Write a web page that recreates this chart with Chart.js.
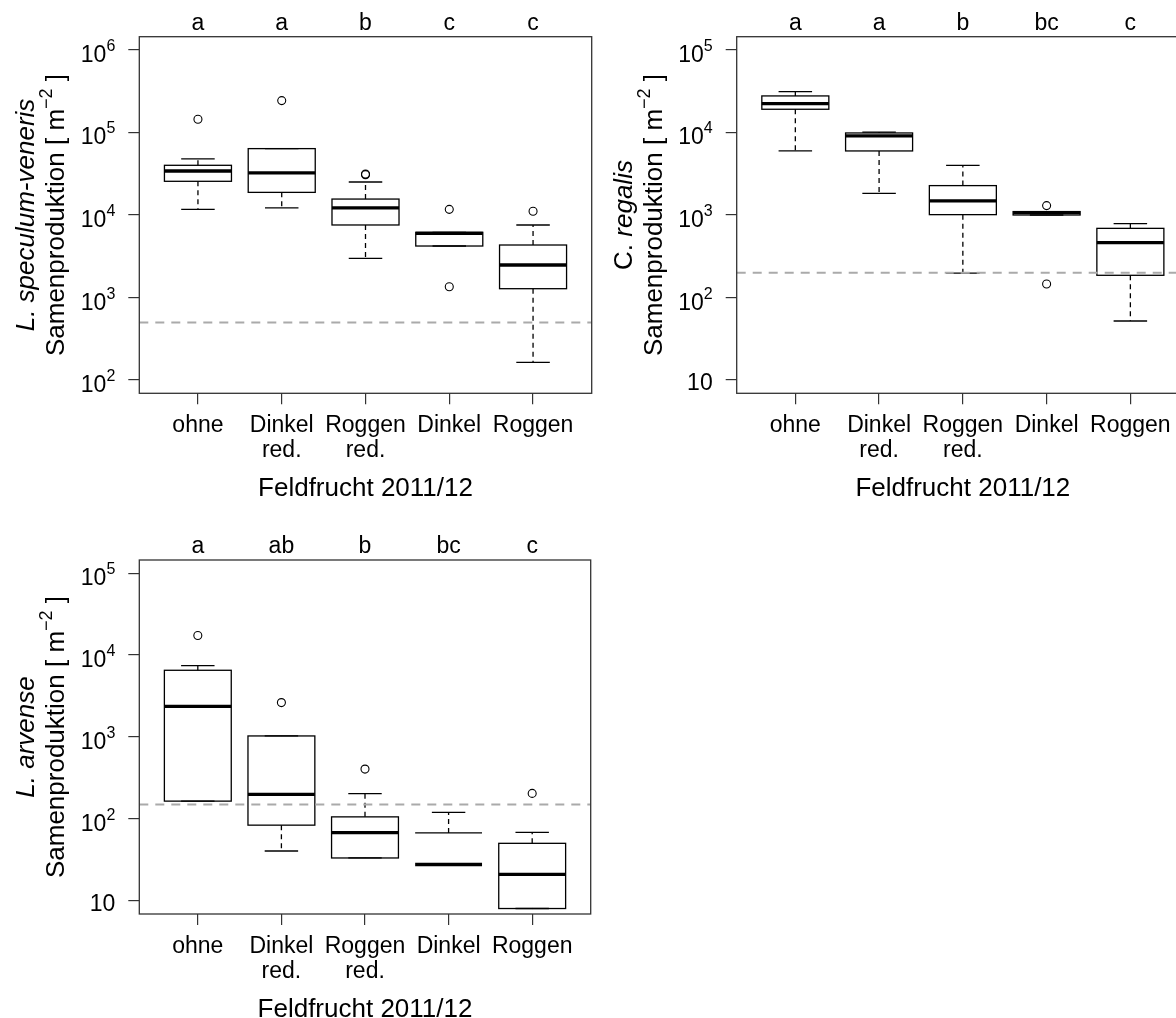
<!DOCTYPE html>
<html>
<head>
<meta charset="utf-8">
<script src="https://cdn.jsdelivr.net/npm/chart.js@4.4.1/dist/chart.umd.min.js"></script>
<style>
html, body { margin: 0; padding: 0; background: #fff; width: 1176px; height: 1018px; overflow: hidden; position: relative; }
canvas { position: absolute; }
</style>
</head>
<body>
<canvas id="c1" width="600" height="525" style="left:0;top:0;width:600px;height:525px"></canvas>
<canvas id="c2" width="600" height="525" style="left:597px;top:0;width:600px;height:525px"></canvas>
<canvas id="c3" width="600" height="525" style="left:0;top:523px;width:600px;height:525px"></canvas>
<script>
// Kategorien (Beschriftung der x-Achse)
const categories = [['ohne'], ['Dinkel', 'red.'], ['Roggen', 'red.'], ['Dinkel'], ['Roggen']];
const xTitle = 'Feldfrucht 2011/12';

// L. speculum-veneris
const lsvLow = [11700, 12200, 2990, 4210, 164];
const lsvQ1 = [25600, 18800, 7570, 4210, 1280];
const lsvMedian = [34100, 32300, 12200, 6000, 2480];
const lsvQ3 = [40000, 63700, 15600, 6170, 4330];
const lsvHigh = [47800, 63700, 25100, 6170, 7570];
const lsvOutliers = [[144500], [243000], [30800, 31400], [11700, 1350], [11100]];
const lsvLetters = ['a', 'a', 'b', 'c', 'c'];
const lsvTicks = [1e2, 1e3, 1e4, 1e5, 1e6];
const lsvThreshold = 500;
const lsvSpecies = [['L. speculum-veneris', true]];

// C. regalis
const crLow = [5970, 1830, 198, 1000, 52];
const crQ1 = [19100, 5970, 1010, 1000, 186];
const crMedian = [22400, 9070, 1480, 1070, 462];
const crQ3 = [27700, 9860, 2270, 1100, 689];
const crHigh = [31300, 10100, 4000, 1100, 785];
const crOutliers = [[], [], [], [1300, 146], []];
const crLetters = ['a', 'a', 'b', 'bc', 'c'];
const crTicks = [10, 1e2, 1e3, 1e4, 1e5];
const crThreshold = 200;
const crSpecies = [['C. ', false], ['regalis', true]];

// L. arvense
const laLow = [165, 40.6, 33.4, 0, 8.07];
const laQ1 = [165, 84, 33.4, 0, 8.07];
const laMedian = [2360, 199, 68, 27.8, 21.1];
const laQ3 = [6520, 1030, 106, 67.5, 50.4];
const laHigh = [7430, 1030, 204, 120, 68.6];
const laOutliers = [[17300], [2630], [406], [], [205]];
const laLetters = ['a', 'ab', 'b', 'bc', 'c'];
const laTicks = [10, 1e2, 1e3, 1e4, 1e5];
const laThreshold = 150;
const laSpecies = [['L. arvense', true]];

const FONT = "'Liberation Sans', Arial, sans-serif";

function seg(ctx, x1, y1, x2, y2) {
    ctx.beginPath();
    ctx.moveTo(x1, y1);
    ctx.lineTo(x2, y2);
    ctx.stroke();
}

// Text entlang der gedrehten Grundlinie zeichnen (Teile: [text, kursiv, groesse, hoch])
function rotatedParts(ctx, parts, xBase, yCenter) {
    ctx.save();
    ctx.translate(xBase, yCenter);
    ctx.rotate(-Math.PI / 2);
    ctx.textAlign = 'left';
    ctx.textBaseline = 'alphabetic';
    let total = 0;
    parts.forEach(p => {
        ctx.font = (p[1] ? 'italic ' : '') + p[2] + 'px ' + FONT;
        total += ctx.measureText(p[0]).width;
    });
    let x = -total / 2;
    parts.forEach(p => {
        ctx.font = (p[1] ? 'italic ' : '') + p[2] + 'px ' + FONT;
        ctx.fillText(p[0], x, -p[3]);
        x += ctx.measureText(p[0]).width;
    });
    ctx.restore();
}

function makePanel(id, area, d) {
    const canvas = document.getElementById(id);
    const W = canvas.width, H = canvas.height;

    const outlierPts = [];
    d.outliers.forEach((arr, i) => arr.forEach(v => outlierPts.push({ x: i + 1, y: v })));

    // R-Konvention: 4 % Erweiterung des Bereichs (log)
    const decades = Math.log10(d.ticks[d.ticks.length - 1] / d.ticks[0]);
    const yMin = d.ticks[0] / Math.pow(10, 0.04 * decades);
    const yMax = d.ticks[d.ticks.length - 1] * Math.pow(10, 0.04 * decades);

    const boxPlugin = {
        id: 'boxes' + id,
        beforeDatasetsDraw(chart) {
            const xs = chart.scales.x, ys = chart.scales.y, ctx = chart.ctx;
            ctx.save();
            ctx.strokeStyle = '#000';
            ctx.fillStyle = '#fff';
            for (let i = 0; i < d.median.length; i++) {
                const xc = xs.getPixelForValue(i + 1);
                const half = xs.getPixelForValue(i + 1.4) - xc;
                const cap = half / 2;
                const yQ3 = ys.getPixelForValue(d.q3[i]);
                const yHi = ys.getPixelForValue(d.high[i]);
                const yMed = ys.getPixelForValue(d.median[i]);
                const hasLow = d.q1[i] > 0;
                ctx.lineWidth = 1.3;
                ctx.setLineDash([5, 4]);
                seg(ctx, xc, yQ3, xc, yHi);
                if (hasLow) seg(ctx, xc, ys.getPixelForValue(d.q1[i]), xc, ys.getPixelForValue(d.low[i]));
                ctx.setLineDash([]);
                seg(ctx, xc - cap, yHi, xc + cap, yHi);
                if (hasLow) {
                    const yLo = ys.getPixelForValue(d.low[i]);
                    seg(ctx, xc - cap, yLo, xc + cap, yLo);
                    const yQ1 = ys.getPixelForValue(d.q1[i]);
                    ctx.strokeRect(xc - half, yQ3, 2 * half, yQ1 - yQ3);
                } else {
                    // unteres Quartil 0 -> auf log-Achse nicht darstellbar
                    seg(ctx, xc - half, yQ3, xc + half, yQ3);
                }
                ctx.lineWidth = 3.3;
                seg(ctx, xc - half, yMed, xc + half, yMed);
            }
            ctx.restore();
        },
        afterDraw(chart) {
            const xs = chart.scales.x, ys = chart.scales.y, ctx = chart.ctx;
            const ca = chart.chartArea;
            ctx.save();
            ctx.strokeStyle = '#333';
            ctx.lineWidth = 1.3;
            ctx.strokeRect(ca.left, ca.top, ca.right - ca.left, ca.bottom - ca.top);

            ctx.fillStyle = '#000';
            // y-Achse: 10^n
            ctx.textBaseline = 'alphabetic';
            ctx.textAlign = 'right';
            const xr = ca.left - 24;
            d.ticks.forEach(v => {
                const e = Math.round(Math.log10(v));
                const y = ys.getPixelForValue(v);
                if (e === 1) {
                    ctx.font = '23px ' + FONT;
                    ctx.fillText('10', xr, y + 10);
                } else {
                    ctx.font = '16px ' + FONT;
                    const w = ctx.measureText(String(e)).width;
                    ctx.fillText(String(e), xr, y + 1);
                    ctx.font = '23px ' + FONT;
                    ctx.fillText('10', xr - w, y + 12);
                }
            });

            // x-Achse: Kategorien
            ctx.textAlign = 'center';
            ctx.font = '23px ' + FONT;
            categories.forEach((lines, i) => {
                const x = xs.getPixelForValue(i + 1);
                lines.forEach((t, j) => ctx.fillText(t, x, ca.bottom + 38.5 + j * 25));
            });
            // Buchstaben oben
            d.letters.forEach((t, i) => ctx.fillText(t, xs.getPixelForValue(i + 1), ca.top - 7));

            ctx.font = '26px ' + FONT;
            ctx.fillText(xTitle, (ca.left + ca.right) / 2, ca.bottom + 103);

            const yc = (ca.top + ca.bottom) / 2;
            rotatedParts(ctx, d.species.map(p => [p[0], p[1], 26, 0]), ca.left - 105, yc);
            rotatedParts(ctx, [['Samenproduktion [ m', false, 26, 0], ['\u22122', false, 18, 12], [' ]', false, 26, 0]], ca.left - 75, yc);
            ctx.restore();
        }
    };

    const tickGrid = { drawOnChartArea: false, drawTicks: true, tickLength: 11, color: '#333', lineWidth: 1.2 };

    return new Chart(canvas, {
        type: 'scatter',
        data: {
            datasets: [
                {
                    data: outlierPts,
                    pointStyle: 'circle',
                    pointRadius: 4,
                    pointBorderColor: '#000',
                    pointBackgroundColor: 'rgba(0,0,0,0)',
                    pointBorderWidth: 1.1,
                    showLine: false
                },
                {
                    data: [{ x: 0.3, y: d.threshold }, { x: 5.7, y: d.threshold }],
                    showLine: true,
                    borderColor: '#aaaaaa',
                    borderWidth: 2,
                    borderDash: [9, 7],
                    pointRadius: 0
                }
            ]
        },
        options: {
            responsive: false,
            animation: false,
            events: [],
            layout: { padding: { left: 0, top: area.top, right: W - area.right, bottom: 0 } },
            plugins: { legend: { display: false }, tooltip: { enabled: false } },
            scales: {
                x: {
                    type: 'linear', min: 0.3, max: 5.7, bounds: 'data',
                    afterBuildTicks: s => { s.ticks = categories.map((c, i) => ({ value: i + 1 })); },
                    afterFit: s => { s.height = H - area.bottom; },
                    ticks: { display: false },
                    grid: tickGrid,
                    border: { display: false }
                },
                y: {
                    type: 'logarithmic', min: yMin, max: yMax, bounds: 'data',
                    afterBuildTicks: s => { s.ticks = d.ticks.map(v => ({ value: v })); },
                    afterFit: s => { s.width = area.left; },
                    ticks: { display: false },
                    grid: tickGrid,
                    border: { display: false }
                }
            }
        },
        plugins: [boxPlugin]
    });
}

makePanel('c1', { left: 139.3, top: 36.7, right: 591.7, bottom: 393.3 }, {
    low: lsvLow, q1: lsvQ1, median: lsvMedian, q3: lsvQ3, high: lsvHigh,
    outliers: lsvOutliers, letters: lsvLetters, ticks: lsvTicks,
    threshold: lsvThreshold, species: lsvSpecies
});
makePanel('c2', { left: 139.7, top: 36.7, right: 592, bottom: 393.3 }, {
    low: crLow, q1: crQ1, median: crMedian, q3: crQ3, high: crHigh,
    outliers: crOutliers, letters: crLetters, ticks: crTicks,
    threshold: crThreshold, species: crSpecies
});
makePanel('c3', { left: 139.3, top: 37, right: 590.7, bottom: 391 }, {
    low: laLow, q1: laQ1, median: laMedian, q3: laQ3, high: laHigh,
    outliers: laOutliers, letters: laLetters, ticks: laTicks,
    threshold: laThreshold, species: laSpecies
});
</script>
</body>
</html>
